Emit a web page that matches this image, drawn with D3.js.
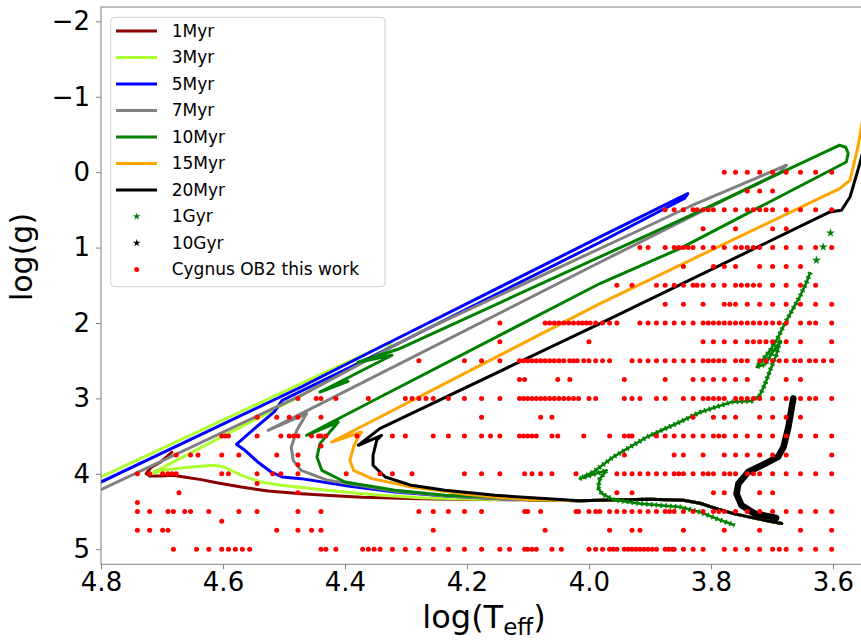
<!DOCTYPE html>
<html><head><meta charset="utf-8">
<script src="https://cdn.jsdelivr.net/npm/d3@7"></script>
<style>body{margin:0;background:#fff} svg{display:block;font-family:"DejaVu Sans",sans-serif}</style>
</head><body><svg id="c" width="861" height="641"></svg>
<script>
// ---------------- data ----------------
const xTicks = [4.8, 4.6, 4.4, 4.2, 4.0, 3.8, 3.6];
const yTicks = [-2, -1, 0, 1, 2, 3, 4, 5];

// Cygnus OB2 sample: rows of log(g) with the Teff (K) of each star on that row
const cygnusLogg = [0, 0.25, 0.5, 0.75, 1.0, 1.25, 1.5, 1.75, 2.0, 2.25, 2.5, 2.75, 3.0, 3.25, 3.5, 3.75, 4.0, 4.25, 4.5, 4.75, 5.0];
const cygnusTeff = [
 [6000,5750,5500,5250,5000,4750,4500,4250,4000],
 [5500,5250,5000],
 [7500,7250,7000,6750,6650,6500,6375,6250,6000,5750,5500,5375,5250,5125,5000,4750,4500,4250,4000],
 [6500,5750,5000,4750],
 [8250,8000,7500,7250,7125,7000,6875,6750,6500,6250,6000,5750,5625,5500,5375,5250,5000,4750,4500,4250,4000],
 [7000,6250,6000,5750,5250,5000,4750,4500],
 [9000,8500,7750,7500,7250,7000,6750,6650,6500,6250,6000,5750,5625,5500,5375,5250,5000,4750,4500,4250],
 [7500,7000,6500,6000,5875,5750,5500,5250,5000,4750,4500,4250,4000],
 [14000,11800,11600,11400,11200,11000,10800,10600,10400,10250,10100,9950,9750,9500,9250,9000,8250,8000,7750,7500,7250,7000,6750,6500,6375,6250,6125,6000,5875,5750,5625,5500,5375,5250,5125,5000,4875,4750,4500,4350,4250,4000],
 [14000,10000,6500,6250,6000,5750,5500,5375,5250,5125,5000,4750,4500,4000],
 [19000,16000,15000,14000,13000,12800,12600,12400,12200,12000,11800,11600,11400,11200,11000,10750,10600,10450,10200,10000,9750,9500,9250,8500,8250,8000,7750,7500,7250,7000,6750,6500,6375,6250,6125,6000,5750,5625,5500,5250,5125,5000,4875,4750,4600,4500,4350,4250,4125,4000],
 [13000,12750,11250,10750,8750,7500,6750,6500,6250,6000,5750,5500,4750,4500],
 [30000,28000,27500,26000,23000,20000,19500,19000,18500,18000,17000,16000,15000,14000,13000,12800,12600,12400,12200,12000,11800,11600,11400,11200,11000,10800,10600,10400,10000,9750,8750,8500,8250,7750,7500,7000,6750,6500,6375,6250,6125,6000,5750,5625,5500,5375,5250,5000,4750,4500,4350,4250,4000],
 [35000,32500,31000,30000,27500,15000,12000,11500,6750,6250,6000,5750,5250,5000,4750,4500],
 [40000,39500,39000,35000,32000,31000,30500,30000,28500,27750,27500,27000,24000,21000,20000,18000,17000,16000,15000,14500,14000,13000,12800,12600,12400,12200,11500,11250,10200,9250,8750,8600,8500,7750,7500,7250,7000,6750,6500,6250,6125,6000,5750,5500,5250,5000,4750,4500,4250,4000],
 [47500,45000,43750,40000,37500,32500,30000,8750,7250,7000,6500,6000,5750,5500,5250,5000,4750,4000],
 [55000,52500,50000,49000,48250,47500,40000,39000,35000,33000,32000,30000,25000,22000,21000,19500,16000,15000,14000,12750,12400,12000,11500,10500,9000,8750,8500,8250,8000,7750,7500,7250,7125,7000,6750,6500,6375,6250,6000,5875,5750,5500,5375,5250,5000,4750,4500,4250,4000],
 [47000,30000,9000,8500,6250,6000,5250,5000],
 [55000,52500,49000,48000,46000,45000,42000,37500,35000,30000,27500,19000,18000,17000,16000,15000,12750,12600,12000,10500,10400,10000,9750,9600,9250,9000,8750,8500,8250,8000,7750,7500,7375,7250,7000,6750,6500,6250,6125,6000,5750,5500,5250,5000,4750,4500,4250,4000],
 [55000,52500,50000,49000,32500,30000,28500,27500,18000,11800,9250,8500,8250,7000,6000,5250,4500,4000],
 [48000,44000,42000,40000,39000,38000,37000,36000,27500,27000,26000,23500,23000,22500,22000,21000,20000,19000,18000,17000,16000,15000,14000,13500,12750,12600,12400,12200,11500,11100,10000,9750,9500,9250,9125,9000,8750,8625,8500,8375,8250,8125,8000,7875,7750,7500,7400,7300,7250,7000,6750,6500,6000,5750,5500,5250,5000,4875,4750,4500,4250,4000]
];
const extraLogg = [3.63, 3.88, 4.13, 4.38, 4.63];
const extraTeff = [27500, 30000, 35000, 55000, 40000];

// isochrones: [log Teff, log g]; all share the same low-mass main sequence
const lowMS = [[4.097,4.345],[4.015,4.358],[3.949,4.345],[3.900,4.338],[3.845,4.351],[3.818,4.391],[3.791,4.462],[3.763,4.528],[3.725,4.594],[3.684,4.660]];
const iso1 = [[4.684,3.715],[4.703,3.847],[4.718,3.914],[4.726,3.997],[4.720,4.029],[4.702,4.029],[4.682,4.020],[4.664,4.042],[4.636,4.077],[4.608,4.122],[4.570,4.175],[4.526,4.228],[4.472,4.263],[4.425,4.289],[4.372,4.312],[4.277,4.332],[4.179,4.342]];
const iso3 = [[4.834,4.172],[4.800,4.042],[4.472,2.804],[4.323,2.249],[4.330,2.336],[4.472,2.963],[4.592,3.467],[4.718,3.997],[4.691,3.944],[4.652,3.910],[4.614,3.887],[4.598,3.910],[4.570,4.020],[4.538,4.109],[4.505,4.153],[4.472,4.183],[4.373,4.263],[4.277,4.318],[4.179,4.338]];
const iso5 = [[4.834,4.241],[4.800,4.109],[4.472,2.849],[4.343,2.322],[3.982,0.859],[3.838,0.284],[3.843,0.346],[3.982,0.930],[4.343,2.395],[4.503,3.025],[4.516,3.180],[4.548,3.397],[4.578,3.609],[4.564,3.688],[4.543,3.843],[4.521,3.976],[4.503,4.042],[4.472,4.064],[4.392,4.166],[4.318,4.241],[4.228,4.298],[4.146,4.332]];
const iso7 = [[4.834,4.338],[4.800,4.210],[4.472,2.959],[4.274,2.110],[3.928,0.810],[3.834,0.452],[3.676,-0.092],[3.687,0.001],[3.982,1.195],[4.526,3.423],[4.463,3.202],[4.479,3.423],[4.488,3.645],[4.485,3.821],[4.472,3.954],[4.428,4.086],[4.318,4.232],[4.228,4.298],[4.146,4.332]];
const iso10 = [[4.395,2.773],[4.441,2.915],[4.323,2.428],[4.379,2.521],[4.313,2.349],[3.851,0.638],[3.589,-0.357],[3.579,-0.330],[3.575,-0.251],[3.578,-0.135],[3.851,1.013],[3.982,1.477],[4.343,2.985],[4.463,3.489],[4.411,3.313],[4.441,3.600],[4.446,3.777],[4.438,3.954],[4.400,4.109],[4.318,4.219],[4.236,4.285],[4.154,4.308]];
const iso15 = [[3.546,-0.953],[3.559,-0.334],[3.572,0.107],[3.589,0.218],[3.982,1.743],[4.422,3.578],[4.373,3.446],[4.381,3.556],[4.386,3.645],[4.392,3.821],[4.386,3.954],[4.356,4.064],[4.291,4.175],[4.209,4.263],[4.154,4.308]];
const iso20 = [[3.546,-0.423],[3.556,-0.114],[3.572,0.329],[3.586,0.505],[3.605,0.528],[3.982,2.008],[4.343,3.401],[4.378,3.622],[4.340,3.489],[4.348,3.556],[4.354,3.755],[4.354,3.887],[4.334,4.042],[4.291,4.153],[4.236,4.219],[4.154,4.285]];
const gyr1Sparse = [[3.604,0.806],[3.616,0.992],[3.627,1.168]];
const gyr1Track = [[3.637,1.328],[3.644,1.473],[3.654,1.646],[3.666,1.818],[3.679,2.008],[3.690,2.190],[3.703,2.363],[3.716,2.495],[3.725,2.584],[3.711,2.548],[3.700,2.402],[3.687,2.252],[3.693,2.428],[3.703,2.627],[3.711,2.804],[3.720,2.959],[3.733,3.034],[3.766,3.048],[3.818,3.184],[3.851,3.313],[3.905,3.512],[3.960,3.777],[3.993,3.976],[4.015,4.064],[3.971,3.954],[3.982,4.064],[3.985,4.183],[3.979,4.263],[3.960,4.342],[3.916,4.395],[3.851,4.440],[3.818,4.507],[3.791,4.594],[3.761,4.683]];
const gyr10Track = [[3.665,3.000],[3.673,3.379],[3.681,3.645],[3.690,3.777],[3.711,3.865],[3.739,3.976],[3.755,4.130],[3.758,4.263],[3.750,4.418],[3.728,4.528],[3.693,4.584]];

const isoNames = ["1Myr","3Myr","5Myr","7Myr","10Myr","15Myr","20Myr"];
const isoColors = ["#8b0000","#adff2f","#0000ff","#808080","#008000","#ffa500","#000000"];

// ---------------- drawing ----------------
const svg = d3.select("#c");
const L = 101, R = 861, T = 7, B = 564.3;
const x = d3.scaleLinear().domain([4.8, 3.554]).range([L, R]);
const y = d3.scaleLinear().domain([-2.19, 5.2]).range([T, B]);

svg.append("defs").append("clipPath").attr("id","clip")
  .append("rect").attr("x",L).attr("y",T).attr("width",R-L+10).attr("height",B-T);
const plot = svg.append("g").attr("clip-path","url(#clip)");
const line = d3.line().x(d=>x(d[0])).y(d=>y(d[1]));

const isoData = [iso1.concat(lowMS), iso3.concat(lowMS), iso5.concat(lowMS), iso7.concat(lowMS),
                 iso10.concat(lowMS), iso15.concat(lowMS), iso20.concat(lowMS.slice(1))];
isoData.forEach((d,i)=>{
  plot.append("path").attr("d", line(d)).attr("fill","none")
    .attr("stroke", isoColors[i]).attr("stroke-width",3)
    .attr("stroke-linejoin","round").attr("stroke-linecap","round");
});

const star = d3.symbol().type(d3.symbolStar);
// 1 Gyr: dense run of star markers along the track
plot.append("path").attr("d", line(gyr1Track)).attr("fill","none")
  .attr("stroke","#008000").attr("stroke-width",2.6).attr("stroke-linejoin","round");
plot.append("path").attr("d", line(gyr1Track)).attr("fill","none")
  .attr("stroke","#008000").attr("stroke-width",5).attr("stroke-dasharray","1.6,3.2")
  .attr("stroke-linejoin","round");
plot.selectAll(".g1").data(gyr1Sparse).join("path")
  .attr("transform", d=>`translate(${x(d[0])},${y(d[1])})`)
  .attr("d", star.size(24)).attr("fill","#008000");
// 10 Gyr
plot.append("path").attr("d", line(gyr10Track)).attr("fill","none")
  .attr("stroke","#000").attr("stroke-width",6.5).attr("stroke-linejoin","round").attr("stroke-linecap","round");

// Cygnus OB2 points
const pts = [];
cygnusLogg.forEach((g,i)=> cygnusTeff[i].forEach(t=> pts.push([Math.log10(t), g])));
extraLogg.forEach((g,i)=> pts.push([Math.log10(extraTeff[i]), g]));
plot.selectAll(".cy").data(pts).join("circle")
  .attr("cx", d=>x(d[0])).attr("cy", d=>y(d[1])).attr("r",2.5).attr("fill","#ff0000");

// frame
svg.append("rect").attr("x",L).attr("y",T).attr("width",R-L+5).attr("height",B-T)
  .attr("fill","none").attr("stroke","#808080").attr("stroke-width",1);

// axes
const fmtY = d => d < 0 ? "\u2212" + (-d) : String(d);
const ax = svg.append("g").attr("transform",`translate(${L},0)`)
  .call(d3.axisLeft(y).tickValues(yTicks).tickFormat(fmtY).tickSize(5).tickPadding(6));
const bx = svg.append("g").attr("transform",`translate(0,${B})`)
  .call(d3.axisBottom(x).tickValues(xTicks).tickFormat(d3.format(".1f")).tickSize(5).tickPadding(3));
[ax,bx].forEach(g=>{
  g.select(".domain").remove();
  g.selectAll(".tick line").attr("stroke","#808080");
  g.selectAll(".tick text").attr("font-size",26).attr("font-family","DejaVu Sans").attr("fill","#000");
});

// axis labels
svg.append("text").attr("transform","translate(32,257) rotate(-90)")
  .attr("text-anchor","middle").attr("font-size",30).text("log(g)");
const xl = svg.append("text").attr("x",484).attr("y",628).attr("text-anchor","middle").attr("font-size",32);
xl.append("tspan").text("log(T");
xl.append("tspan").attr("font-size",23).attr("dy",7).text("eff");
xl.append("tspan").attr("dy",-7).text(")");

// legend
const lg = svg.append("g");
lg.append("rect").attr("x",110.7).attr("y",17.3).attr("width",274.3).attr("height",269.4)
  .attr("rx",4).attr("fill","#fff").attr("fill-opacity",0.8).attr("stroke","#d0d0d0");
const labels = isoNames.concat(["1Gyr","10Gyr","Cygnus OB2 this work"]);
labels.forEach((lab,i)=>{
  const yy = 31 + i*26.5;
  if (i < 7) {
    lg.append("line").attr("x1",116).attr("x2",157).attr("y1",yy).attr("y2",yy)
      .attr("stroke", isoColors[i]).attr("stroke-width",3);
  } else if (i < 9) {
    lg.append("path").attr("transform",`translate(136.7,${yy})`).attr("d", star.size(18))
      .attr("fill", i===7 ? "#008000" : "#000");
  } else {
    lg.append("circle").attr("cx",136.7).attr("cy",yy).attr("r",2.5).attr("fill","#ff0000");
  }
  lg.append("text").attr("x",171.7).attr("y",yy).attr("dy","0.35em").attr("font-size",17).text(lab);
});
</script></body></html>
